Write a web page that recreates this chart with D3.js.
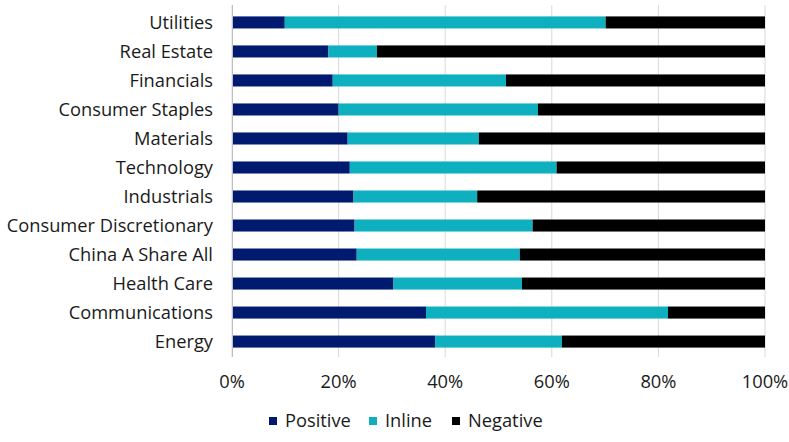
<!DOCTYPE html>
<html>
<head>
<meta charset="utf-8">
<script src="https://cdn.jsdelivr.net/npm/d3@7"></script>
<style>
  body { margin: 0; background: #fff; }
  text { font-family: "Open Sans", sans-serif; }
</style>
</head>
<body>
<svg id="chart" width="789" height="442"></svg>
<script>
// Chart data (percent of companies per sector)
let sectors = ["Utilities", "Real Estate", "Financials", "Consumer Staples", "Materials",
    "Technology", "Industrials", "Consumer Discretionary", "China A Share All",
    "Health Care", "Communications", "Energy"]
let positive = [9.9, 18.1, 18.9, 20.0, 21.7, 22.1, 22.8, 23.0, 23.4, 30.3, 36.4, 38.1]
let inline   = [60.2, 9.1, 32.5, 37.4, 24.6, 38.8, 23.2, 33.4, 30.6, 24.1, 45.4, 23.8]
let negative = [29.9, 72.8, 48.6, 42.6, 53.7, 39.1, 54.0, 43.6, 46.0, 45.6, 18.2, 38.1]
let seriesNames = ["Positive", "Inline", "Negative"]
let xTicks = [0, 20, 40, 60, 80, 100]

// Settings
let colors = { Positive: "#001a70", Inline: "#0eb0c0", Negative: "#000000" }
let plotLeft = 232, plotRight = 765, plotTop = 8, plotBottom = 356
let fontSize = 18.3

let svg = d3.select("#chart")

let rows = sectors.map((s, i) => ({
    sector: s, Positive: positive[i], Inline: inline[i], Negative: negative[i]
}))
let stacked = d3.stack().keys(seriesNames)(rows)

let x = d3.scaleLinear().domain([0, 100]).range([plotLeft, plotRight])
let y = d3.scaleBand().domain(sectors).range([plotTop, plotBottom]).paddingInner(0.585).paddingOuter(0.29)

// Gridlines
svg.append("g")
    .selectAll("line")
    .data(xTicks)
    .enter()
    .append("line")
    .attr("x1", d => x(d)).attr("x2", d => x(d))
    .attr("y1", plotTop - 3).attr("y2", plotBottom + 1)
    .attr("stroke", "#d9d9d9")
    .attr("stroke-width", 1)

// Bars
svg.append("g")
    .selectAll("g")
    .data(stacked)
    .enter()
    .append("g")
    .attr("fill", d => colors[d.key])
    .selectAll("rect")
    .data(d => d)
    .enter()
    .append("rect")
    .attr("x", d => x(d[0]))
    .attr("width", d => x(d[1]) - x(d[0]))
    .attr("y", d => y(d.data.sector))
    .attr("height", y.bandwidth())

// Category axis line
svg.append("line")
    .attr("x1", plotLeft + 0.5).attr("x2", plotLeft + 0.5)
    .attr("y1", plotTop - 3).attr("y2", plotBottom + 1)
    .attr("stroke", "#bfbfbf")

// Category labels
svg.append("g")
    .selectAll("text")
    .data(sectors)
    .enter()
    .append("text")
    .attr("x", 213)
    .attr("y", d => y(d) + y.bandwidth() / 2)
    .attr("dy", "0.35em")
    .attr("text-anchor", "end")
    .attr("font-size", fontSize)
    .attr("fill", "#1a1a1a")
    .text(d => d)

// X tick labels
svg.append("g")
    .selectAll("text")
    .data(xTicks)
    .enter()
    .append("text")
    .attr("x", d => x(d))
    .attr("y", 382)
    .attr("dy", "0.35em")
    .attr("text-anchor", "middle")
    .attr("font-size", fontSize)
    .attr("fill", "#1a1a1a")
    .text(d => d + "%")

// Legend
let legendX = [269, 369, 452]
let legend = svg.append("g")
    .selectAll("g")
    .data(seriesNames)
    .enter()
    .append("g")
    .attr("transform", (d, i) => `translate(${legendX[i]},421)`)
legend.append("rect")
    .attr("x", 0).attr("y", -4)
    .attr("width", 8).attr("height", 8)
    .attr("fill", d => colors[d])
legend.append("text")
    .attr("x", 16)
    .attr("dy", "0.35em")
    .attr("font-size", fontSize)
    .attr("fill", "#1a1a1a")
    .text(d => d)
</script>
</body>
</html>
